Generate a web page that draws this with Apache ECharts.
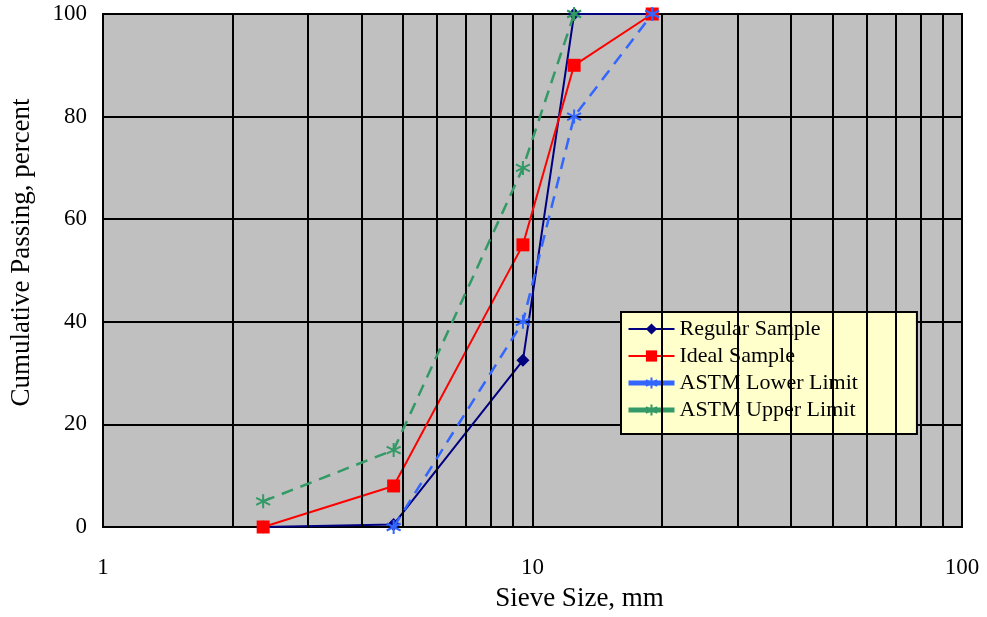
<!DOCTYPE html>
<html><head><meta charset="utf-8">
<script src="https://cdn.jsdelivr.net/npm/echarts@6/dist/echarts.min.js"></script>
<style>html,body{margin:0;padding:0;background:#fff}#c{width:987px;height:617px}</style>
</head><body><div id="c"></div>
<script>
const sieveSizes = [2.36, 4.75, 9.5, 12.5, 19];
const regularSample = [0, 0.5, 32.5, 100, 100];
const idealSample = [0, 8, 55, 90, 100];
const astmLowerSizes = [4.75, 9.5, 12.5, 19];
const astmLower = [0, 40, 80, 100];
const astmUpperSizes = [2.36, 4.75, 9.5, 12.5];
const astmUpper = [5, 15, 70, 100];
const minorGridX = [2, 3, 4, 5, 6, 7, 8, 9, 20, 30, 40, 50, 60, 70, 80, 90];
const seriesNames = ['Regular Sample', 'Ideal Sample', 'ASTM Lower Limit', 'ASTM Upper Limit'];

const pair = (xs, ys) => xs.map((x, i) => [x, ys[i]]);
const star = 'path://M5,0L5,10M0.7,2.5L9.3,7.5M0.7,7.5L9.3,2.5';
const font = '"Liberation Serif","Times New Roman",serif';

const chart = echarts.init(document.getElementById('c'));
chart.setOption({
  animation: false,
  textStyle: { fontFamily: font },
  grid: { left: 101, right: 25, top: 14, bottom: 88, show: true, backgroundColor: '#c0c0c0', borderColor: '#000', borderWidth: 2 },
  xAxis: {
    type: 'log', logBase: 10, min: 1, max: 100,
    name: 'Sieve Size, mm', nameLocation: 'middle', nameGap: 58,
    nameTextStyle: { fontSize: 27, color: '#000', fontFamily: font, padding: [0, 0, 0, 94] },
    axisLine: { show: true, lineStyle: { color: '#000', width: 2 } },
    axisTick: { show: false },
    axisLabel: { fontSize: 23, color: '#000', margin: 29, fontFamily: font },
    splitLine: { show: true, lineStyle: { color: '#000', width: 2 } }
  },
  yAxis: {
    type: 'value', min: 0, max: 100, interval: 20,
    name: 'Cumulative Passing, percent', nameLocation: 'middle', nameGap: 68,
    nameTextStyle: { fontSize: 27, color: '#000', fontFamily: font, padding: [0, 0, 0, 36] },
    axisLine: { show: true, lineStyle: { color: '#000', width: 2 } },
    axisTick: { show: false },
    axisLabel: { fontSize: 23, color: '#000', margin: 16, fontFamily: font },
    splitLine: { show: true, lineStyle: { color: '#000', width: 2 } }
  },
  legend: {
    orient: 'vertical', left: 621, top: 312,
    data: [
      { name: seriesNames[0] },
      { name: seriesNames[1] },
      { name: seriesNames[2], lineStyle: { type: 'solid', width: 5 } },
      { name: seriesNames[3], lineStyle: { type: 'solid', width: 5 } }
    ],
    backgroundColor: '#ffffcc', borderColor: '#000', borderWidth: 2,
    padding: [6, 59, 13, 5], itemGap: 5, itemWidth: 46, itemHeight: 14,
    textStyle: { fontSize: 22, color: '#000', fontFamily: font }
  },
  series: [
    {
      type: 'line', name: 'grid', data: [], z: 1, silent: true,
      markLine: {
        silent: true, symbol: 'none', label: { show: false }, animation: false,
        lineStyle: { color: '#000', width: 2, type: 'solid' },
        data: minorGridX.map(v => ({ xAxis: v }))
      }
    },
    {
      type: 'line', name: seriesNames[0], data: pair(sieveSizes, regularSample), z: 3, clip: false,
      symbol: 'diamond', symbolSize: 13,
      lineStyle: { color: '#000080', width: 2 }, itemStyle: { color: '#000080' }
    },
    {
      type: 'line', name: seriesNames[1], data: pair(sieveSizes, idealSample), z: 4, clip: false,
      symbol: 'rect', symbolSize: 13,
      lineStyle: { color: '#ff0000', width: 2 }, itemStyle: { color: '#ff0000' }
    },
    {
      type: 'line', name: seriesNames[2], data: pair(astmLowerSizes, astmLower), z: 5, clip: false,
      symbol: star, symbolSize: 14,
      lineStyle: { color: '#3366ff', width: 2.5, type: [12, 8] },
      itemStyle: { color: '#3366ff', borderColor: '#3366ff', borderWidth: 2 }
    },
    {
      type: 'line', name: seriesNames[3], data: pair(astmUpperSizes, astmUpper), z: 6, clip: false,
      symbol: star, symbolSize: 14,
      lineStyle: { color: '#339966', width: 2.5, type: [12, 8] },
      itemStyle: { color: '#339966', borderColor: '#339966', borderWidth: 2 }
    }
  ]
});
</script></body></html>
